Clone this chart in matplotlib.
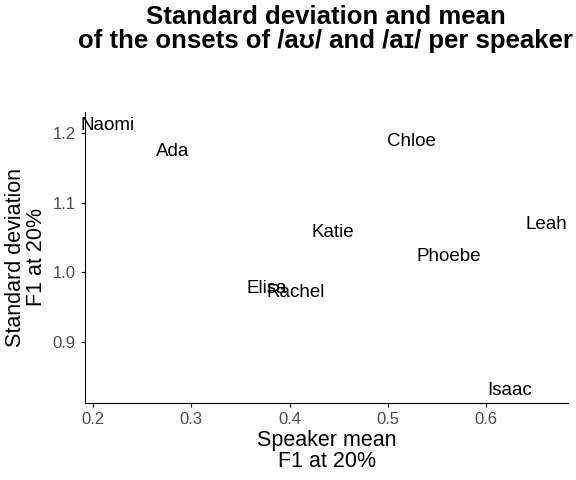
import matplotlib
matplotlib.use("Agg")
import matplotlib.pyplot as plt

plt.rcParams['font.family'] = ['Liberation Sans', 'DejaVu Sans']

speakers = ["Naomi", "Ada", "Chloe", "Leah", "Katie", "Phoebe", "Elisa", "Rachel", "Isaac"]
mean_f1 = [0.215, 0.281, 0.524, 0.661, 0.444, 0.562, 0.377, 0.406, 0.624]
sd_f1 = [1.210, 1.173, 1.188, 1.068, 1.057, 1.022, 0.977, 0.971, 0.830]

fig = plt.figure(figsize=(5.76, 4.8), dpi=100)
ax = fig.add_axes([85/576, 77/480, 483/576, 291/480])
for s, x, y in zip(speakers, mean_f1, sd_f1):
    ax.text(x, y, s, ha='center', va='center', fontsize=13.5)
ax.set_xlim(0.192, 0.683)
ax.set_ylim(0.812, 1.230)
ax.set_xticks([0.2, 0.3, 0.4, 0.5, 0.6])
ax.set_yticks([0.9, 1.0, 1.1, 1.2])
ax.tick_params(labelsize=12, colors='black', length=3, labelcolor='#4d4d4d')
for sp in ['top', 'right']:
    ax.spines[sp].set_visible(False)
ax.set_xlabel("Speaker mean\nF1 at 20%", fontsize=15.5, labelpad=2, linespacing=1.0)
ax.set_ylabel("Standard deviation\nF1 at 20%", fontsize=15.5, labelpad=4, linespacing=1.0)
fig.suptitle("Standard deviation and mean\nof the onsets of /aʊ/ and /aɪ/ per speaker",
             fontsize=18.5, fontweight='bold', x=0.565, y=0.99, linespacing=1.0)
fig.savefig("out.png")
